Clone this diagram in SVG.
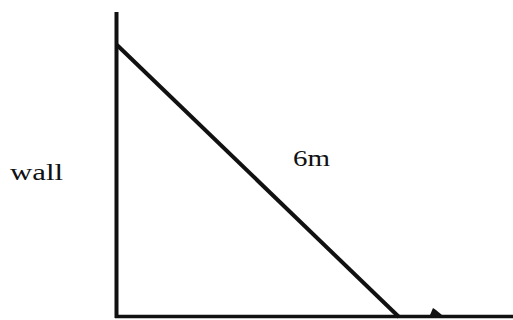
<svg xmlns="http://www.w3.org/2000/svg" width="513" height="320" viewBox="0 0 513 320">
<style>
.ln{stroke:#111;stroke-linecap:butt;fill:none}
.lbl{font-family:"Liberation Serif","Times New Roman",serif;font-size:23px;fill:#111}
</style>
<rect width="513" height="320" fill="#fff"/>
<g id="connectors">
<line class="ln" x1="116.5" y1="12" x2="116.5" y2="318" stroke-width="4"/>
<line class="ln" x1="115" y1="316.5" x2="513" y2="316.5" stroke-width="3.5"/>
<line class="ln" x1="117" y1="45" x2="399" y2="317" stroke-width="4"/>
<polygon points="430,315 433,308 436,310 442,315" fill="#111"/>
</g>
<g id="wall"><text class="lbl" x="10" y="180" textLength="53" lengthAdjust="spacingAndGlyphs">wall</text></g>
<g id="length"><text class="lbl" x="293" y="166" textLength="37" lengthAdjust="spacingAndGlyphs">6m</text></g>
</svg>
